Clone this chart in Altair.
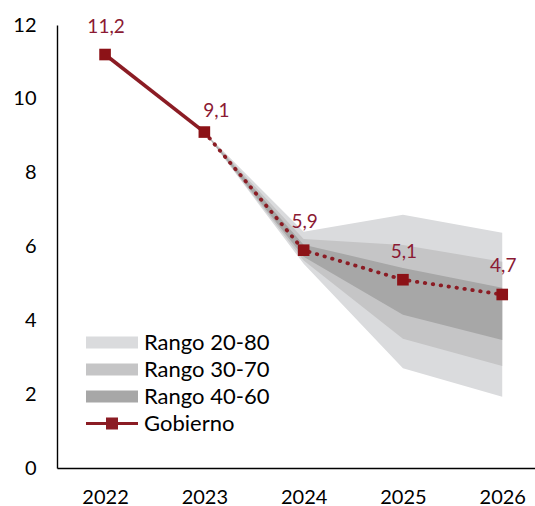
import altair as alt
import pandas as pd

# ---- data ----
years = [2022, 2023, 2024, 2025, 2026]
gobierno = [11.2, 9.1, 5.9, 5.1, 4.7]
value_labels = ["11,2", "9,1", "5,9", "5,1", "4,7"]

fan_years = [2023, 2024, 2025, 2026]
p20 = [9.1, 5.53, 2.70, 1.93]
p80 = [9.1, 6.40, 6.86, 6.37]
p30 = [9.1, 5.62, 3.50, 2.76]
p70 = [9.1, 6.20, 6.04, 5.59]
p40 = [9.1, 5.72, 4.15, 3.47]
p60 = [9.1, 6.05, 5.42, 4.88]

legend_names = ["Rango 20-80", "Rango 30-70", "Rango 40-60", "Gobierno"]
y_ticks = [0, 2, 4, 6, 8, 10, 12]

# ---- styles ----
FONT = "Lato"
C_2080 = "#DADBDD"
C_3070 = "#C5C5C6"
C_4060 = "#A7A7A7"
C_LINE = "#8B1C24"
C_MARK = "#8C1217"
C_TEXT = "#8B1A33"

gov_df = pd.DataFrame({"year": years, "value": gobierno, "label": value_labels})
solid_df = gov_df[gov_df["year"] <= 2023]
dotted_df = gov_df[gov_df["year"] >= 2023]
fan_df = pd.DataFrame({"year": fan_years, "p20": p20, "p80": p80,
                       "p30": p30, "p70": p70, "p40": p40, "p60": p60})
legend_df = pd.DataFrame({"series": legend_names})

x_enc = alt.X("year:Q",
              scale=alt.Scale(domain=[2021.516, 2026.33], nice=False, zero=False),
              axis=alt.Axis(values=years, format="d", title=None, labelPadding=19))
y_scale = alt.Scale(domain=[0, 12], nice=False)
y_axis = alt.Axis(values=y_ticks, title=None, labelPadding=21)

base_fan = alt.Chart(fan_df)
band2080 = base_fan.mark_area(color=C_2080, opacity=1).encode(
    x=x_enc, y=alt.Y("p20:Q", scale=y_scale, axis=y_axis), y2="p80:Q")
band3070 = base_fan.mark_area(color=C_3070, opacity=1).encode(
    x="year:Q", y="p30:Q", y2="p70:Q")
band4060 = base_fan.mark_area(color=C_4060, opacity=1).encode(
    x="year:Q", y="p40:Q", y2="p60:Q")

solid = alt.Chart(solid_df).mark_line(color=C_LINE, strokeWidth=3.6).encode(
    x="year:Q", y="value:Q")
dotted = alt.Chart(dotted_df).mark_line(
    color=C_LINE, strokeWidth=3.8, strokeDash=[0.5, 7.5], strokeCap="round"
).encode(x="year:Q", y="value:Q")
markers = alt.Chart(gov_df).mark_point(
    shape="square", filled=True, color=C_MARK, size=135, opacity=1
).encode(x="year:Q", y="value:Q")

labels_main = alt.Chart(gov_df).transform_filter("datum.year != 2023").mark_text(
    font=FONT, fontSize=19, color=C_TEXT, baseline="middle", align="center", dy=-28, dx=1
).encode(x="year:Q", y="value:Q", text="label:N")
labels_2023 = alt.Chart(gov_df).transform_filter("datum.year == 2023").mark_text(
    font=FONT, fontSize=19, color=C_TEXT, baseline="middle", align="center", dy=-21, dx=12
).encode(x="year:Q", y="value:Q", text="label:N")

# legend driver (invisible points)
P_RECT = "M-1.926,-0.444H1.926V0.444H-1.926Z"
P_GOV = "M-1.926,-0.12H1.926V0.12H-1.926Z M-0.444,-0.444H0.444V0.444H-0.444Z"
leg = dict(title=None, orient="none", legendX=41.5, legendY=304,
           symbolSize=729, symbolOpacity=1, symbolStrokeWidth=0,
           labelFont=FONT, labelFontSize=22, labelColor="black",
           labelOffset=18.5, rowPadding=2, padding=0, labelLimit=300)
legend_layer = alt.Chart(legend_df).mark_point(filled=True, opacity=0).encode(
    color=alt.Color("series:N",
                    scale=alt.Scale(domain=legend_names,
                                    range=[C_2080, C_3070, C_4060, C_LINE]),
                    legend=alt.Legend(**leg)),
    shape=alt.Shape("series:N",
                    scale=alt.Scale(domain=legend_names,
                                    range=[P_RECT, P_RECT, P_RECT, P_GOV]),
                    legend=alt.Legend(**leg)),
)

chart = alt.layer(
    band2080, band3070, band4060, solid, dotted, markers,
    labels_main, labels_2023, legend_layer
).properties(
    width=478, height=443,
    padding={"left": 57, "top": 25, "right": 0, "bottom": 38},
    autosize=alt.AutoSizeParams(type="none"),
).configure_view(stroke=None).configure_axis(
    domainColor="black", domainWidth=1.4, ticks=False, grid=False,
    labelFont=FONT, labelFontSize=20, labelColor="black"
)

chart.save("out.html", embed_options={"renderer": "svg", "actions": False})
